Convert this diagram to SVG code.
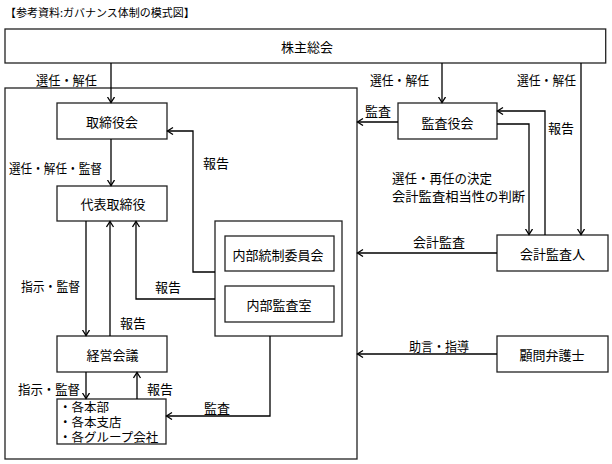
<svg xmlns="http://www.w3.org/2000/svg" width="612" height="464" viewBox="0 0 612 464">
<style>
text{font-family:"Noto Sans CJK JP","Noto Sans",sans-serif;font-size:13px;fill:#000;dominant-baseline:central}
.t{text-anchor:middle}
.box{fill:#fff;stroke:#222;stroke-width:1.3}
.c{fill:none;stroke:#000;stroke-width:1.3}
.a{marker-end:url(#arr)}
</style>
<defs>
<marker id="arr" markerUnits="userSpaceOnUse" markerWidth="10" markerHeight="10" refX="6" refY="4" orient="auto" viewBox="0 0 10 10">
<path d="M0.5,0.5 L6,4 L0.5,7.5" fill="none" stroke="#000" stroke-width="1.3"/>
</marker>
</defs>
<rect width="612" height="464" fill="#fff"/>
<text x="5" y="12" style="font-size:11px">【参考資料:ガバナンス体制の模式図】</text>

<g id="main-frame"><rect class="box" x="5" y="88" width="352" height="371" fill="none"/></g>
<g id="shareholders"><rect class="box" x="5" y="29" width="600.7" height="34"/><text class="t" x="307" y="46">株主総会</text></g>
<g id="board"><rect class="box" x="57" y="103" width="110" height="36"/><text class="t" x="112" y="121">取締役会</text></g>
<g id="representative"><rect class="box" x="57" y="186" width="110" height="35"/><text class="t" x="113" y="203.5">代表取締役</text></g>
<g id="management"><rect class="box" x="57" y="336" width="110" height="36"/><text class="t" x="112.5" y="354">経営会議</text></g>
<g id="divisions"><rect class="box" x="57" y="399" width="109" height="45"/>
<text x="59" y="406.5" style="font-size:12.5px">・各本部</text>
<text x="59" y="421.5" style="font-size:12.5px">・各本支店</text>
<text x="59" y="436.5" style="font-size:12.5px">・各グループ会社</text></g>
<g id="internal-group"><rect class="box" x="215" y="221" width="127" height="115"/></g>
<g id="internal-control"><rect class="box" x="225" y="236" width="109" height="35"/><text class="t" x="278" y="254">内部統制委員会</text></g>
<g id="internal-audit"><rect class="box" x="225" y="286" width="109" height="36"/><text class="t" x="279" y="304">内部監査室</text></g>
<g id="auditors"><rect class="box" x="398" y="103" width="99" height="36"/><text class="t" x="447.5" y="122">監査役会</text></g>
<g id="accounting-auditor"><rect class="box" x="497" y="235" width="111" height="36"/><text class="t" x="552.5" y="253.5">会計監査人</text></g>
<g id="lawyer"><rect class="box" x="497" y="336" width="111" height="36"/><text class="t" x="552" y="354">顧問弁護士</text></g>

<g id="connectors">
<path class="c a" d="M111,63 V102.5"/>
<path class="c a" d="M442,63 V102.5"/>
<path class="c a" d="M581,63 V234.5"/>
<path class="c a" d="M111,139 V185.5"/>
<path class="c a" d="M215,272 H193 V131 H167.5"/>
<path class="c a" d="M215,299 H136 V221.5"/>
<path class="c a" d="M86,221 V335.5"/>
<path class="c a" d="M110,336 V221.5"/>
<path class="c a" d="M86,372 V398.5"/>
<path class="c a" d="M137,399 V372.5"/>
<path class="c a" d="M270,336 V416 H166.5"/>
<path class="c a" d="M398,122 H357.5"/>
<path class="c a" d="M545,235 V111 H497.5"/>
<path class="c a" d="M497,124 H529 V234.5"/>
<path class="c a" d="M497,253 H357.5"/>
<path class="c a" d="M497,354 H357.5"/>
</g>

<g id="labels">
<text x="36" y="79" textLength="61" lengthAdjust="spacingAndGlyphs">選任・解任</text>
<text x="370" y="79" textLength="59" lengthAdjust="spacingAndGlyphs">選任・解任</text>
<text x="517" y="79" textLength="59" lengthAdjust="spacingAndGlyphs">選任・解任</text>
<text x="365" y="110">監査</text>
<text x="548" y="127">報告</text>
<text x="203" y="162">報告</text>
<text x="9" y="167" textLength="93" lengthAdjust="spacingAndGlyphs">選任・解任・監督</text>
<text x="392" y="177" textLength="100" lengthAdjust="spacingAndGlyphs">選任・再任の決定</text>
<text x="392" y="195" textLength="133" lengthAdjust="spacingAndGlyphs">会計監査相当性の判断</text>
<text x="413" y="241.5">会計監査</text>
<text x="21" y="285" textLength="59" lengthAdjust="spacingAndGlyphs">指示・監督</text>
<text x="155" y="286">報告</text>
<text x="120" y="322">報告</text>
<text x="409" y="345" textLength="60" lengthAdjust="spacingAndGlyphs">助言・指導</text>
<text x="18" y="388" textLength="62" lengthAdjust="spacingAndGlyphs">指示・監督</text>
<text x="147" y="388">報告</text>
<text x="204" y="407">監査</text>
</g>
</svg>
